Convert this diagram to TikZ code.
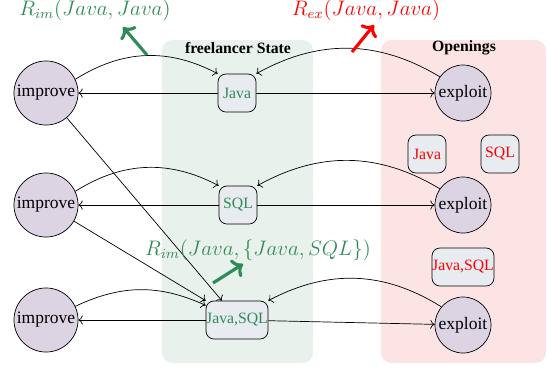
\documentclass[tikz,border=0pt]{standalone}
\usepackage{fontspec}
\setmainfont{Liberation Serif}
\usetikzlibrary{arrows.meta}
\definecolor{gbg}{RGB}{232,241,235}
\definecolor{rbg}{RGB}{253,228,228}
\definecolor{circ}{RGB}{220,212,226}
\definecolor{boxf}{RGB}{232,236,240}
\definecolor{sgreen}{RGB}{46,139,87}
\begin{document}
\begin{tikzpicture}[x=0.5714pt,y=-0.5714pt,
  imp/.style={circle, draw, fill=circ, minimum size=36.6pt, inner sep=0pt},
  expl/.style={circle, draw, fill=circ, minimum size=32pt, inner sep=0pt},
  stbox/.style={draw, rounded corners=4.5pt, fill=boxf, minimum width=21.7pt, minimum height=21.7pt, inner sep=1pt, font=\small},
  title/.style={font=\small\bfseries},
  lbl/.style={font=\large},
  flow/.style={->, black},
  garr/.style={->, draw=sgreen, line width=1.8pt},
  rarr/.style={->, draw=red, line width=1.8pt}]
\useasboundingbox (0,0) rectangle (547,370);
% backgrounds
\fill[gbg, rounded corners=6pt] (162,40) rectangle (313,363);
\fill[rbg, rounded corners=6pt] (381,40) rectangle (546,363);
\node[title] (ft) at (238,48) {freelancer State};
\node[title] (op) at (464,48) {Openings};
% nodes
\node[imp] (i1) at (46,93) {improve};
\node[imp] (i2) at (46,205) {improve};
\node[imp] (i3) at (46,320) {improve};
\node[expl] (e1) at (463,93) {exploit};
\node[expl] (e2) at (463,205) {exploit};
\node[expl] (e3) at (463,325) {exploit};
\node[stbox, text=sgreen] (j1) at (237,93) {Java};
\node[stbox, text=sgreen] (s2) at (238,205) {SQL};
\node[stbox, text=sgreen, minimum width=35.4pt, inner sep=0pt] (js) at (237,320) {Java,SQL};
\node[stbox, text=red] (oj) at (427,154) {Java};
\node[stbox, text=red] (os) at (500,154) {SQL};
\node[stbox, text=red, minimum width=35.4pt, inner sep=0pt] (ojs) at (463,267) {Java,SQL};
% row 1
\draw[flow] (i1.25) to[bend left=30] (j1.north west);
\draw[flow] (j1) -- (i1);
\draw[flow] (e1.145) to[bend right=30] (j1.north east);
\draw[flow] (j1) -- (e1);
% row 2
\draw[flow] (i2.25) to[bend left=30] (s2.north west);
\draw[flow] (s2) -- (i2);
\draw[flow] (e2.145) to[bend right=30] (s2.north east);
\draw[flow] (s2) -- (e2);
% row 3
\draw[flow] (i3.25) to[bend left=25] (js.155);
\draw[flow] (js) -- (i3);
\draw[flow] (e3.140) to[bend right=30] (js.north east);
\draw[flow] (js) -- (e3);
% cross
\draw[flow] (i1.-50) -- (js.128);
\draw[flow] (i2.-30) -- (js.north west);
% labels
\node[lbl, text=sgreen] (l1) at (95,10) {$R_{im}(Java, Java)$};
\node[lbl, text=red] (l2) at (366,10) {$R_{ex}(Java, Java)$};
\node[lbl, text=sgreen] (l3) at (258,250) {$R_{im}(Java, \{Java, SQL\})$};
\coordinate (a1s) at (147,55); \coordinate (a1e) at (123,27);
\coordinate (a2s) at (352,52); \coordinate (a2e) at (374,25);
\coordinate (a3s) at (213,283); \coordinate (a3e) at (243,264);
\draw[garr] (a1s) -- (a1e);
\draw[rarr] (a2s) -- (a2e);
\draw[garr] (a3s) -- (a3e);
\end{tikzpicture}
\end{document}
